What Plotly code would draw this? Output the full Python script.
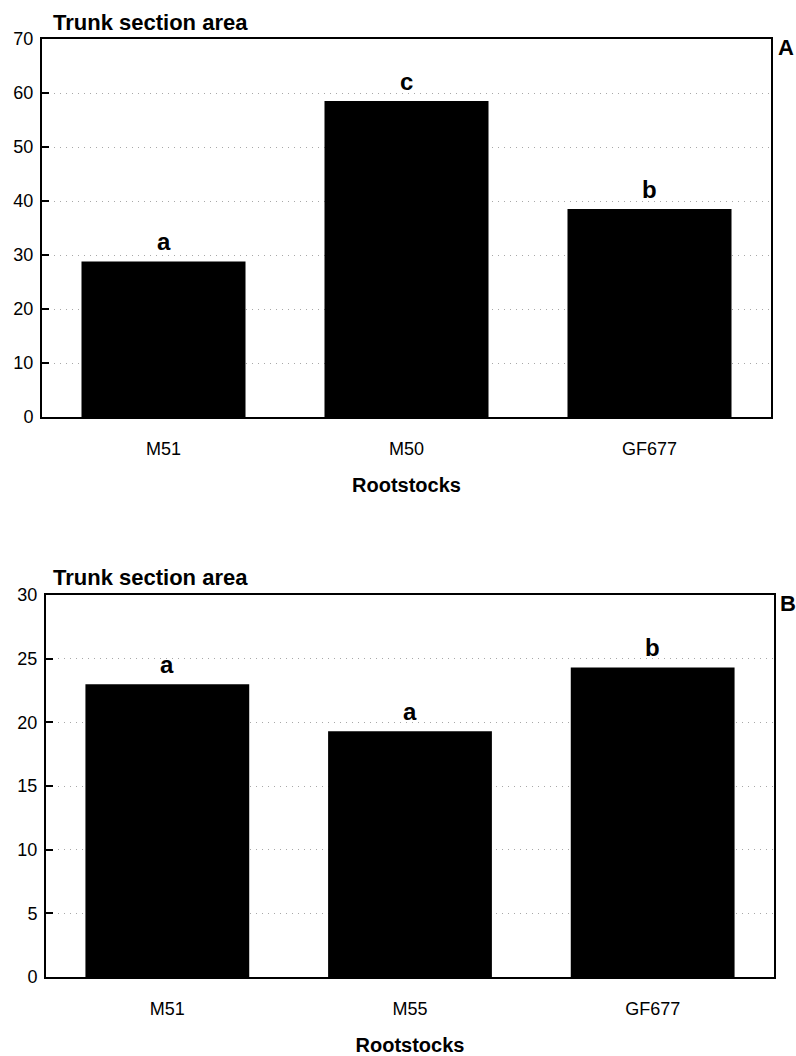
import plotly.graph_objects as go

# Panel A
cats_a = ["M51", "M50", "GF677"]
vals_a = [28.8, 58.5, 38.5]
letters_a = ["a", "c", "b"]

# Panel B
cats_b = ["M51", "M55", "GF677"]
vals_b = [23.0, 19.3, 24.3]
letters_b = ["a", "a", "b"]

ylabel = "Trunk section area"
xlabel = "Rootstocks"

W, H = 796, 1056
FONT = "Liberation Sans, Arial, sans-serif"

def xdom(l, r):
    return [l / W, r / W]

def ydom(t, b):
    return [1 - b / H, 1 - t / H]

def px(x):
    return x / W

def py(y):
    return 1 - y / H

fig = go.Figure()
fig.add_trace(go.Bar(x=cats_a, y=vals_a, marker=dict(color="black", line=dict(width=0)),
                     width=0.675, xaxis="x", yaxis="y"))
fig.add_trace(go.Bar(x=cats_b, y=vals_b, marker=dict(color="black", line=dict(width=0)),
                     width=0.675, xaxis="x2", yaxis="y2"))

axis_common = dict(showline=True, linecolor="black", linewidth=2, mirror=True,
                   automargin=False)

grid = dict(showgrid=True, gridcolor="#a8a8a8", griddash="1px,5px", gridwidth=1, zeroline=False)
xtitle_font = dict(family=FONT, size=20, color="black", weight="bold")

fig.update_layout(
    width=W, height=H,
    margin=dict(l=0, r=0, t=0, b=0, autoexpand=False),
    paper_bgcolor="white", plot_bgcolor="white",
    showlegend=False,
    xaxis=dict(domain=xdom(42, 771), anchor="y", **axis_common, ticks="",
               tickfont=dict(family=FONT, size=18, color="black"),
               ticklabelstandoff=14,
               title=dict(text=xlabel, font=xtitle_font, standoff=20)),
    yaxis=dict(domain=ydom(39, 417), anchor="x", range=[0, 70], dtick=10, **axis_common,
               tickfont=dict(family=FONT, size=18, color="black"), ticklabelstandoff=3,
               ticks="inside", ticklen=7, tickwidth=2, tickcolor="black", **grid),
    xaxis2=dict(domain=xdom(46, 774), anchor="y2", **axis_common, ticks="",
                tickfont=dict(family=FONT, size=18, color="black"),
                ticklabelstandoff=14,
                title=dict(text=xlabel, font=xtitle_font, standoff=20)),
    yaxis2=dict(domain=ydom(595, 977), anchor="x2", range=[0, 30], dtick=5, **axis_common,
                tickfont=dict(family=FONT, size=18, color="black"), ticklabelstandoff=3,
                ticks="inside", ticklen=7, tickwidth=2, tickcolor="black", **grid),
)

letter_font = dict(family=FONT, size=24, color="black", weight="bold")
for c, v, t in zip(cats_a, vals_a, letters_a):
    fig.add_annotation(x=c, y=v, xref="x", yref="y", text=t, showarrow=False,
                       yanchor="middle", yshift=20, font=letter_font)
for c, v, t in zip(cats_b, vals_b, letters_b):
    fig.add_annotation(x=c, y=v, xref="x2", yref="y2", text=t, showarrow=False,
                       yanchor="middle", yshift=20, font=letter_font)

ann_font = dict(family=FONT, size=22, color="black", weight="bold")
fig.add_annotation(x=px(51), y=py(22), xref="paper", yref="paper", text=ylabel,
                   showarrow=False, xanchor="left", yanchor="middle", font=ann_font)
fig.add_annotation(x=px(51), y=py(577), xref="paper", yref="paper", text=ylabel,
                   showarrow=False, xanchor="left", yanchor="middle", font=ann_font)
fig.add_annotation(x=px(786), y=py(47), xref="paper", yref="paper", text="A",
                   showarrow=False, xanchor="center", yanchor="middle",
                   font=dict(family=FONT, size=22, color="black", weight="bold"))
fig.add_annotation(x=px(788), y=py(603), xref="paper", yref="paper", text="B",
                   showarrow=False, xanchor="center", yanchor="middle",
                   font=dict(family=FONT, size=22, color="black", weight="bold"))

# remove the default page margin so figure pixels map 1:1 onto the window
fig.write_html("out.html",
               config={"displayModeBar": False},
               post_script="document.body.style.margin='0';document.body.style.overflow='hidden';")
